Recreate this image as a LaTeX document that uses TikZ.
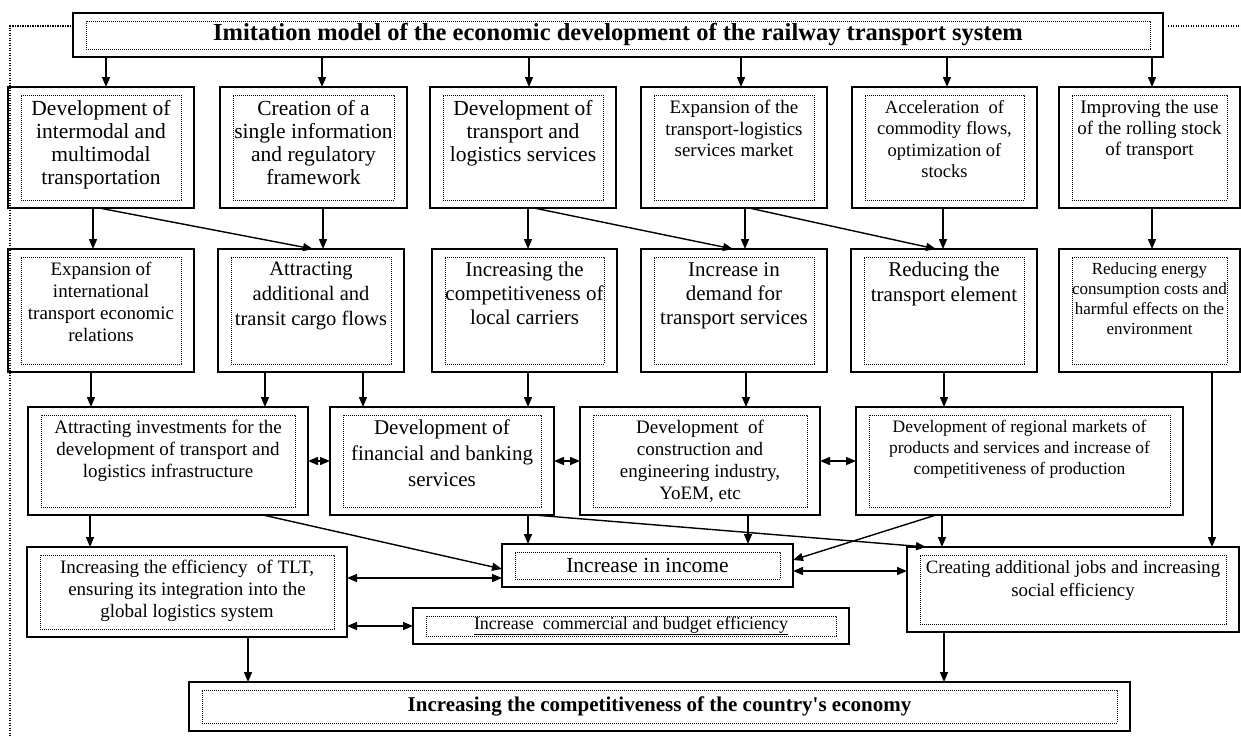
\documentclass[tikz,border=0pt]{standalone}
\usepackage{fontspec}
\setmainfont{Liberation Serif}
\usetikzlibrary{arrows.meta}
\newcommand\setfs[2]{\fontsize{#1}{#2}\selectfont}
\newcommand\railbox[9]{%
  \pgfmathsetmacro\rbw{#4-#2}%
  \pgfmathsetmacro\rbh{#5-#3}%
  \pgfmathsetmacro\rbiw{#4-#2-26}%
  \pgfmathsetmacro\rbih{#5-#3-16}%
  \node[outerbox, minimum width=\rbw pt, minimum height=\rbh pt] (#1) at ({(#2+#4)/2},{(#3+#5)/2}) {};
  \node[innerbox, minimum width=\rbiw pt, minimum height=\rbih pt] (#1i) at (#1.center) {};
  \node[#7, font={#8}] (#1t) at (#1i.#6) {#9};
}
\tikzset{
  outerbox/.style={draw, line width=1.8pt, inner sep=0pt, outer sep=0pt},
  innerbox/.style={draw, line width=0.9pt, dash pattern=on 0.9pt off 1.1pt, inner sep=0pt, outer sep=0pt},
  topt/.style={anchor=north, yshift=-5pt, inner sep=0pt, align=center},
  midt/.style={anchor=center, inner sep=0pt, align=center},
  arr/.style={line width=1.4pt, -{Triangle[length=10pt,width=8pt]}},
  darr/.style={line width=1.4pt, {Triangle[length=10pt,width=8pt]}-{Triangle[length=10pt,width=8pt]}},
  framel/.style={line width=1.2pt, dash pattern=on 1.2pt off 1.3pt}
}
\begin{document}
\begin{tikzpicture}[x=1pt,y=-1pt]
\useasboundingbox (0,0) rectangle (1241,737);
% frame
\draw[framel] (71,26) -- (10,26) -- (10,737);
\draw[framel] (1168,26) -- (1241,26);
% title
\railbox{title}{73}{13}{1163}{57}{center}{midt}{\setfs{24.5}{26}\bfseries}{Imitation model of the economic development of the railway transport system}
% row 1
\railbox{b1}{8}{87}{194}{208}{north}{topt}{\setfs{21.5}{23}}{Development of\\intermodal and\\multimodal\\transportation}
\railbox{b2}{220}{87}{407}{208}{north}{topt}{\setfs{21.5}{23}}{Creation of a\\single information\\and regulatory\\framework}
\railbox{b3}{430}{87}{616}{208}{north}{topt}{\setfs{21.5}{23}}{Development of\\transport and\\logistics services}
\railbox{b4}{641}{87}{827}{208}{north}{topt}{\setfs{19}{21.5}}{Expansion of the\\transport-logistics\\services market}
\railbox{b5}{852}{87}{1037}{208}{north}{topt}{\setfs{18.5}{21.5}}{Acceleration\ \ of\\commodity flows,\\optimization of\\stocks}
\railbox{b6}{1059}{87}{1240}{208}{north}{topt}{\setfs{19}{21}}{Improving the use\\of the rolling stock\\of transport}
% row 2
\railbox{rA}{8}{249}{194}{372}{north}{topt}{\setfs{19}{22}}{Expansion of\\international\\transport economic\\relations}
\railbox{rB}{218}{249}{404}{372}{north}{topt}{\setfs{20.5}{25}}{Attracting\\additional and\\transit cargo flows}
\railbox{rC}{432}{249}{617}{372}{north}{topt}{\setfs{21}{24}}{Increasing the\\competitiveness of\\local carriers}
\railbox{rD}{641}{249}{827}{372}{north}{topt}{\setfs{21}{24}}{Increase in\\demand for\\transport services}
\railbox{rE}{851}{249}{1037}{372}{north}{topt}{\setfs{21}{25}}{Reducing the\\transport element}
\railbox{rF}{1059}{249}{1240}{372}{north}{topt}{\setfs{17}{20}}{Reducing energy\\consumption costs and\\harmful effects on the\\environment}
% row 3
\railbox{rG}{28}{407}{308}{515}{north}{topt}{\setfs{19}{22}}{Attracting investments for the\\development of transport and\\logistics infrastructure}
\railbox{rH}{330}{407}{554}{515}{north}{topt}{\setfs{21}{26}}{Development of\\financial and banking\\services}
\railbox{rI}{580}{407}{820}{515}{north}{topt}{\setfs{19}{22}}{Development\ \ of\\construction and\\engineering industry,\\YoEM, etc}
\railbox{rJ}{856}{407}{1183}{515}{north}{topt}{\setfs{17.5}{21}}{Development of regional markets of\\products and services and increase of\\competitiveness of production}
% row 4
\railbox{rK}{27}{547}{347}{637}{north}{topt}{\setfs{19}{22}}{Increasing the efficiency\ \ of TLT,\\ensuring its integration into the\\global logistics system}
\railbox{rL}{502}{544}{793}{587}{center}{midt}{\setfs{21.5}{23}}{Increase in income}
\railbox{rM}{413}{608}{849}{644}{center}{midt}{\setfs{18}{20}}{\underline{Increase\ \ commercial and budget efficiency}}
\railbox{rN}{907}{547}{1239}{632}{north}{topt}{\setfs{18.8}{23}}{Creating additional jobs and increasing\\social efficiency}
\railbox{rO}{189}{682}{1130}{731}{center}{midt}{\setfs{21}{23}\bfseries}{Increasing the competitiveness of the country\textquotesingle s economy}
% title -> row 1
\draw[arr] (106,0 |- title.south) -- (106,0 |- b1.north);
\draw[arr] (322,0 |- title.south) -- (322,0 |- b2.north);
\draw[arr] (529,0 |- title.south) -- (529,0 |- b3.north);
\draw[arr] (741,0 |- title.south) -- (741,0 |- b4.north);
\draw[arr] (947,0 |- title.south) -- (947,0 |- b5.north);
\draw[arr] (1152,0 |- title.south) -- (1152,0 |- b6.north);
% row 1 -> row 2
\draw[arr] (93,0 |- b1.south) -- (93,0 |- rA.north);
\draw[arr] (99,0 |- b1.south) -- (313,0 |- rB.north);
\draw[arr] (323,0 |- b2.south) -- (323,0 |- rB.north);
\draw[arr] (528,0 |- b3.south) -- (528,0 |- rC.north);
\draw[arr] (534,0 |- b3.south) -- (733,0 |- rD.north);
\draw[arr] (745,0 |- b4.south) -- (745,0 |- rD.north);
\draw[arr] (749,0 |- b4.south) -- (936,0 |- rE.north);
\draw[arr] (943,0 |- b5.south) -- (943,0 |- rE.north);
\draw[arr] (1152,0 |- b6.south) -- (1152,0 |- rF.north);
% row 2 -> row 3
\draw[arr] (91,0 |- rA.south) -- (91,0 |- rG.north);
\draw[arr] (265,0 |- rB.south) -- (265,0 |- rG.north);
\draw[arr] (363,0 |- rB.south) -- (363,0 |- rH.north);
\draw[arr] (528,0 |- rC.south) -- (528,0 |- rH.north);
\draw[arr] (746,0 |- rD.south) -- (746,0 |- rI.north);
\draw[arr] (944,0 |- rE.south) -- (944,0 |- rJ.north);
\draw[arr] (1212,0 |- rF.south) -- (1212,0 |- rN.north);
% row 3 horizontal
\draw[darr] (rG.east) -- (rH.west);
\draw[darr] (rH.east) -- (rI.west);
\draw[darr] (rI.east) -- (rJ.west);
% row 3 -> row 4
\draw[arr] (90,0 |- rG.south) -- (90,0 |- rK.north);
\draw[arr] (263,0 |- rG.south) -- (rL.west |- 0,569);
\draw[arr] (528,0 |- rH.south) -- (528,0 |- rL.north);
\draw[arr] (534,0 |- rH.south) -- (926,0 |- rN.north);
\draw[arr] (748,0 |- rI.south) -- (748,0 |- rL.north);
\draw[arr] (936,0 |- rJ.south) -- (rL.east |- 0,560);
\draw[arr] (942,0 |- rJ.south) -- (942,0 |- rN.north);
% row 4
\draw[darr] (rK.east |- 0,578) -- (rL.west |- 0,578);
\draw[darr] (rL.east |- 0,571) -- (rN.west |- 0,571);
\draw[darr] (rK.east |- rM.west) -- (rM.west);
\draw[arr] (248,0 |- rK.south) -- (248,0 |- rO.north);
\draw[arr] (944,0 |- rN.south) -- (944,0 |- rO.north);
\end{tikzpicture}
\end{document}
